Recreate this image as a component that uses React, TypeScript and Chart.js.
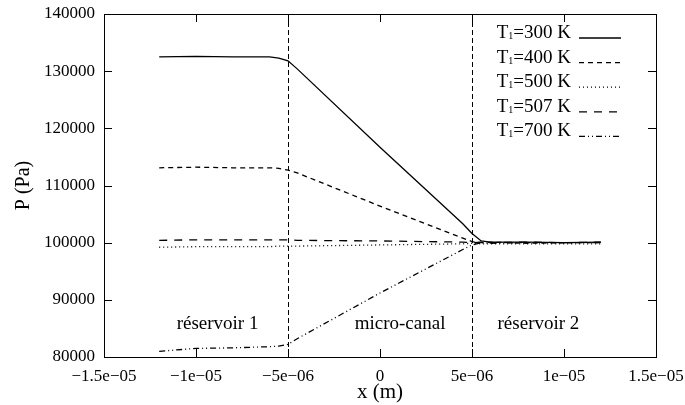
import React, { useEffect, useRef } from 'react';
import { Chart, registerables } from 'chart.js';
Chart.register(...registerables);

// ---- data (x in metres, P in Pa) ----
const X_POS = [-1.2e-5, -1e-5, -8e-6, -6e-6, -5.5e-6, -5e-6, -4.5e-6, 0, 4.5e-6, 5e-6, 5.5e-6, 6e-6, 8e-6, 1e-5, 1.2e-5];
const P_300K = [132500, 132600, 132500, 132500, 132300, 131800, 130400, 116700, 103300, 101600, 100300, 100100, 100100, 100000, 100100];
const P_400K = [113100, 113200, 113100, 113100, 113000, 112700, 112200, 106400, 100800, 100200, 100000, 100100, 99900, 100000, 100000];
const P_500K = [99200, 99300, 99300, 99300, 99400, 99400, 99400, 99600, 99800, 99900, 99800, 99800, 99800, 99800, 99800];
const P_507K = [100400, 100500, 100500, 100500, 100500, 100500, 100400, 100300, 100100, 100000, 100100, 100000, 100100, 100000, 100100];
const P_700K = [81000, 81500, 81600, 81800, 81900, 82200, 83200, 91200, 98800, 99600, 100000, 99900, 100000, 100000, 100000];

const SERIES_TEMPS = ['300 K', '400 K', '500 K', '507 K', '700 K'];
const SERIES_VALUES = [P_300K, P_400K, P_500K, P_507K, P_700K];
const SERIES_DASH: number[][] = [[], [5, 4], [1, 3], [8, 7], [6, 3, 1, 3, 1, 3]];

const X_TICKS = [-1.5e-5, -1e-5, -5e-6, 0, 5e-6, 1e-5, 1.5e-5];
const X_TICK_LABELS = ['\u22121.5e\u221205', '\u22121e\u221205', '\u22125e\u221206', '0', '5e\u221206', '1e\u221205', '1.5e\u221205'];
const Y_TICKS = [80000, 90000, 100000, 110000, 120000, 130000, 140000];

const BOUNDARIES = [-5e-6, 5e-6];
const REGION_LABELS = ['réservoir 1', 'micro-canal', 'réservoir 2'];
const REGION_X = [-8.83e-6, 1.09e-6, 8.61e-6];
const REGION_P = 84900;

const FONT = "'Liberation Serif', 'DejaVu Serif', serif";

const overlay = {
  id: 'overlay',
  beforeDatasetsDraw(chart: any) {
    const { ctx, chartArea: a, scales } = chart;
    const xs = scales.x;
    ctx.save();
    ctx.strokeStyle = '#000';
    ctx.lineWidth = 1;
    ctx.setLineDash([5, 3]);
    BOUNDARIES.forEach((b) => {
      const px = Math.round(xs.getPixelForValue(b)) + 0.5;
      ctx.beginPath();
      ctx.moveTo(px, a.top);
      ctx.lineTo(px, a.bottom);
      ctx.stroke();
    });
    ctx.restore();
  },
  afterDraw(chart: any) {
    const { ctx, chartArea: a, scales } = chart;
    const xs = scales.x;
    const ys = scales.y;
    ctx.save();
    ctx.strokeStyle = '#000';
    ctx.fillStyle = '#000';
    ctx.lineWidth = 1;
    ctx.setLineDash([]);
    // border
    ctx.strokeRect(Math.round(a.left) + 0.5, Math.round(a.top) + 0.5, Math.round(a.right - a.left), Math.round(a.bottom - a.top));
    // inward ticks
    const TL = 8;
    ctx.beginPath();
    X_TICKS.forEach((v) => {
      const px = Math.round(xs.getPixelForValue(v)) + 0.5;
      ctx.moveTo(px, a.bottom);
      ctx.lineTo(px, a.bottom - TL);
      ctx.moveTo(px, a.top);
      ctx.lineTo(px, a.top + TL);
    });
    Y_TICKS.forEach((v) => {
      const py = Math.round(ys.getPixelForValue(v)) + 0.5;
      ctx.moveTo(a.left, py);
      ctx.lineTo(a.left + TL, py);
      ctx.moveTo(a.right, py);
      ctx.lineTo(a.right - TL, py);
    });
    ctx.stroke();

    // region labels
    ctx.font = `19px ${FONT}`;
    ctx.textAlign = 'center';
    ctx.textBaseline = 'alphabetic';
    REGION_LABELS.forEach((t, i) => {
      ctx.fillText(t, xs.getPixelForValue(REGION_X[i]), ys.getPixelForValue(REGION_P));
    });

    // axis titles
    ctx.font = `21px ${FONT}`;
    ctx.textBaseline = 'middle';
    ctx.fillText('x (m)', (a.left + a.right) / 2, 392);
    ctx.save();
    ctx.translate(24, (a.top + a.bottom) / 2);
    ctx.rotate(-Math.PI / 2);
    ctx.font = `20px ${FONT}`;
    ctx.fillText('P (Pa)', 0, 0);
    ctx.restore();

    // legend
    const textRight = 571;
    const lineX0 = 579;
    const lineX1 = 621;
    SERIES_TEMPS.forEach((t, i) => {
      const y = 38 + i * 24.6;
      ctx.textBaseline = 'alphabetic';
      ctx.textAlign = 'left';
      ctx.font = `19px ${FONT}`;
      const rest = '=' + t;
      const wRest = ctx.measureText(rest).width;
      const wT = ctx.measureText('T').width;
      ctx.font = `10px ${FONT}`;
      const wSub = ctx.measureText('1').width;
      const x0 = textRight - wRest - wSub - wT;
      ctx.font = `19px ${FONT}`;
      ctx.fillText('T', x0, y);
      ctx.font = `10px ${FONT}`;
      ctx.fillText('1', x0 + wT, y + 1);
      ctx.font = `19px ${FONT}`;
      ctx.fillText(rest, x0 + wT + wSub, y);
      ctx.setLineDash(SERIES_DASH[i]);
      ctx.lineWidth = 1.3;
      ctx.beginPath();
      ctx.moveTo(lineX0, y);
      ctx.lineTo(lineX1, y);
      ctx.stroke();
    });
    ctx.restore();
  },
};

export default function App() {
  const ref = useRef<HTMLCanvasElement | null>(null);
  useEffect(() => {
    if (!ref.current) return;
    const datasets = SERIES_VALUES.map((vals, i) => ({
      label: 'T1=' + SERIES_TEMPS[i],
      data: X_POS.map((x, j) => ({ x, y: vals[j] })),
      borderColor: '#000',
      borderWidth: 1.3,
      borderDash: SERIES_DASH[i],
      pointRadius: 0,
      fill: false,
      tension: 0,
    }));
    const chart = new Chart(ref.current, {
      type: 'line',
      data: { datasets },
      options: {
        animation: false,
        responsive: false,
        layout: { padding: { left: 0, top: 14, right: 29, bottom: 0 } },
        plugins: { legend: { display: false }, tooltip: { enabled: false } },
        scales: {
          x: {
            type: 'linear',
            min: -1.5e-5,
            max: 1.5e-5,
            grid: { display: false, drawTicks: false },
            border: { display: false },
            afterBuildTicks: (s: any) => {
              s.ticks = X_TICKS.map((v) => ({ value: v }));
            },
            afterFit: (s: any) => {
              s.height = 48;
              s.paddingLeft = 0;
              s.paddingRight = 0;
            },
            ticks: {
              autoSkip: false,
              maxRotation: 0,
              padding: 9,
              color: '#000',
              font: { family: FONT, size: 17 },
              callback: (_v: any, i: number) => X_TICK_LABELS[i],
            },
          },
          y: {
            type: 'linear',
            min: 80000,
            max: 140000,
            grid: { display: false, drawTicks: false },
            border: { display: false },
            afterBuildTicks: (s: any) => {
              s.ticks = Y_TICKS.map((v) => ({ value: v }));
            },
            afterFit: (s: any) => {
              s.width = 104;
              s.paddingTop = 0;
              s.paddingBottom = 0;
            },
            ticks: {
              padding: 9,
              color: '#000',
              font: { family: FONT, size: 17 },
              callback: (v: any) => String(v),
            },
          },
        },
      },
      plugins: [overlay],
    } as any);
    return () => chart.destroy();
  }, []);
  return (
    <div style={{ position: 'absolute', left: 0, top: 0, width: 685, height: 405, background: '#fff' }}>
      <canvas ref={ref} width={685} height={405} />
    </div>
  );
}
